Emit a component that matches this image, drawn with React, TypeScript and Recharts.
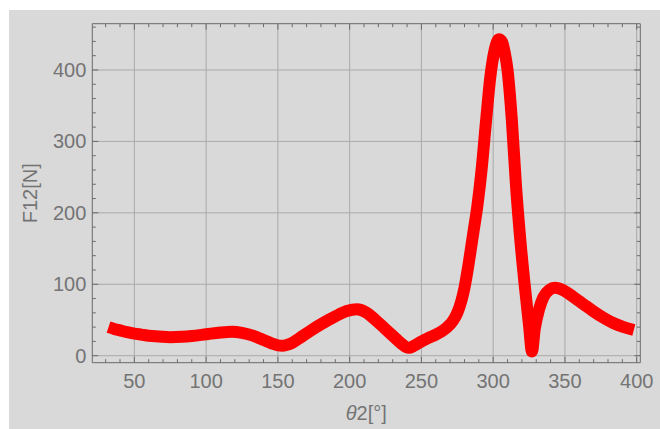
import React from "react";
import { LineChart, Line, XAxis, YAxis, CartesianGrid, Label } from "recharts";

// angle θ2 in degrees
const THETA = [
  32, 36, 40, 45, 50, 55, 60, 67, 75, 83, 90, 100, 110, 118, 125, 132, 140, 146, 150, 153, 156, 160, 165, 172,
  180, 190, 198, 205, 212, 218, 224, 230, 236, 241, 245, 250, 255, 260, 264, 268, 272, 275, 278, 280, 283, 286,
  289, 292, 295, 298, 301, 304, 306, 308, 310, 313, 316, 319, 322, 325, 327, 329, 332, 335, 339, 343, 349, 356,
  363, 370, 377, 384, 391, 398,
];

// force F12 in N
const F12 = [
  40, 37.5, 35.5, 33, 31, 29.5, 28, 27, 26, 26.5, 27.5, 30, 32.5, 33.5, 32, 28.5, 22, 17, 14.5, 14, 15, 18, 24.5, 34,
  44, 55, 62.5, 65, 60, 50, 39, 28, 17, 11, 14, 20, 25, 29.5, 34, 40, 49, 60, 78, 95, 130, 170,
  210, 262, 328, 390, 428, 443, 440, 425, 400, 330, 235, 160, 98, 42, 6, 38, 65, 82, 92, 95, 91.5, 82,
  72, 62, 53, 45.5, 40, 36,
];

const X_MAJOR = [50, 100, 150, 200, 250, 300, 350, 400];
const X_TICKS = [30, 40, 50, 60, 70, 80, 90, 100, 110, 120, 130, 140, 150, 160, 170, 180, 190, 200, 210, 220, 230, 240,
  250, 260, 270, 280, 290, 300, 310, 320, 330, 340, 350, 360, 370, 380, 390, 400];
const Y_MAJOR = [0, 100, 200, 300, 400];
const Y_TICKS = [0, 20, 40, 60, 80, 100, 120, 140, 160, 180, 200, 220, 240, 260, 280, 300, 320, 340, 360, 380, 400,
  420, 440, 460];

const data = THETA.map((t, i) => ({ theta: t, f: F12[i] }));

const X_DOMAIN = [20.7, 402.5];
const Y_DOMAIN = [-9.8, 464.8];

const FRAME = "#6a6a6a";
const TEXT = "#747474";
const FONT = "'Liberation Sans', Arial, sans-serif";

const tickFrame = (side: string, majors: number[]) => (props: any) => {
  const { x, y, payload } = props;
  const v = payload.value;
  const major = majors.includes(v);
  const len = major ? 6 : 3.5;
  let x2 = x, y2 = y;
  if (side === "bottom") y2 = y - len;
  if (side === "top") y2 = y + len;
  if (side === "left") x2 = x + len;
  if (side === "right") x2 = x - len;
  return (
    <g>
      <line x1={x} y1={y} x2={x2} y2={y2} stroke={FRAME} strokeWidth={1} />
      {major && side === "bottom" && (
        <text x={x} y={y + 25} textAnchor="middle" fill={TEXT} fontSize={20} fontFamily={FONT}>
          {v}
        </text>
      )}
      {major && side === "left" && (
        <text x={x - 6} y={y + 7} textAnchor="end" fill={TEXT} fontSize={20} fontFamily={FONT}>
          {v}
        </text>
      )}
    </g>
  );
};

export default function App() {
  return (
    <div style={{ position: "absolute", left: 9, top: 10, width: 651, height: 419, background: "#d9d9d9" }}>
      <LineChart width={651} height={419} data={data} margin={{ top: 12.7, right: 18.7, left: 0, bottom: 0 }}>
        <CartesianGrid stroke="#a9a9a9" verticalValues={X_MAJOR} horizontalValues={Y_MAJOR} />
        <XAxis
          dataKey="theta"
          type="number"
          domain={X_DOMAIN}
          allowDataOverflow
          ticks={X_TICKS}
          interval={0}
          height={66.3}
          tickSize={0}
          tickMargin={0}
          tickLine={false}
          axisLine={{ stroke: FRAME }}
          tick={tickFrame("bottom", X_MAJOR)}
        >
          <Label
            content={(p: any) => {
              const vb = p.viewBox;
              return (
                <text x={vb.x + vb.width / 2} y={vb.y + 57} textAnchor="middle" fill={TEXT} fontSize={20} fontFamily={FONT}>
                  <tspan fontStyle="italic">θ</tspan>2[°]
                </text>
              );
            }}
          />
        </XAxis>
        <XAxis
          xAxisId="top"
          dataKey="theta"
          orientation="top"
          type="number"
          domain={X_DOMAIN}
          allowDataOverflow
          ticks={X_TICKS}
          interval={0}
          height={1}
          tickSize={0}
          tickMargin={0}
          tickLine={false}
          axisLine={{ stroke: FRAME }}
          tick={tickFrame("top", X_MAJOR)}
        />
        <YAxis
          type="number"
          domain={Y_DOMAIN}
          allowDataOverflow
          ticks={Y_TICKS}
          interval={0}
          width={83.3}
          tickSize={0}
          tickMargin={0}
          tickLine={false}
          axisLine={{ stroke: FRAME }}
          tick={tickFrame("left", Y_MAJOR)}
        >
          <Label
            content={(p: any) => {
              const vb = p.viewBox;
              const cy = vb.y + vb.height / 2;
              return (
                <text x={28} y={cy} textAnchor="middle" fill={TEXT} fontSize={20} fontFamily={FONT}
                  transform={`rotate(-90, 28, ${cy})`}>
                  F12[N]
                </text>
              );
            }}
          />
        </YAxis>
        <YAxis
          yAxisId="right"
          orientation="right"
          type="number"
          domain={Y_DOMAIN}
          allowDataOverflow
          ticks={Y_TICKS}
          interval={0}
          width={1}
          tickSize={0}
          tickMargin={0}
          tickLine={false}
          axisLine={{ stroke: FRAME }}
          tick={tickFrame("right", Y_MAJOR)}
        />
        <Line
          dataKey="f"
          type="monotone"
          stroke="#ff0000"
          strokeWidth={12}
          strokeLinejoin="round"
          dot={false}
          activeDot={false}
          isAnimationActive={false}
        />
        {/* invisible series so the frame axes are drawn */}
        <Line
          dataKey="f"
          xAxisId="top"
          yAxisId="right"
          stroke="none"
          dot={false}
          activeDot={false}
          isAnimationActive={false}
        />
      </LineChart>
    </div>
  );
}
